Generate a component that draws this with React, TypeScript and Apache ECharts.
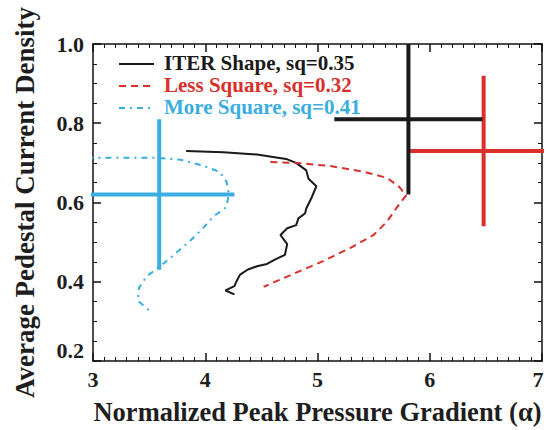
import React, { useEffect, useRef } from "react";
import * as echarts from "echarts";

// ITER shape curve (alpha, j)
const iterAlpha = [3.83, 4.16, 4.46, 4.72, 4.81, 4.9, 4.92, 4.99, 4.95, 4.9, 4.89, 4.83, 4.81, 4.73, 4.67, 4.73, 4.71, 4.62, 4.55, 4.46, 4.38, 4.31, 4.28, 4.26, 4.18, 4.26];
const iterJ = [0.73, 0.727, 0.721, 0.71, 0.7, 0.681, 0.66, 0.641, 0.614, 0.585, 0.573, 0.56, 0.543, 0.535, 0.518, 0.495, 0.468, 0.456, 0.445, 0.439, 0.431, 0.418, 0.402, 0.389, 0.378, 0.368];

// Less square curve
const lessAlpha = [4.58, 4.81, 5.11, 5.41, 5.62, 5.73, 5.79, 5.7, 5.62, 5.5, 5.29, 5.05, 4.81, 4.64, 4.52];
const lessJ = [0.702, 0.7, 0.692, 0.678, 0.662, 0.639, 0.618, 0.585, 0.552, 0.518, 0.485, 0.452, 0.423, 0.402, 0.387];

// More square curve
const moreAlpha = [2.95, 3.27, 3.57, 3.78, 3.98, 4.13, 4.19, 4.21, 4.19, 4.07, 3.98, 3.86, 3.72, 3.6, 3.48, 3.41, 3.4, 3.5];
const moreJ = [0.713, 0.713, 0.713, 0.708, 0.693, 0.677, 0.652, 0.623, 0.589, 0.564, 0.535, 0.502, 0.468, 0.439, 0.414, 0.385, 0.352, 0.328];

// Error crosses
const crossNames = ["ITER Shape, sq=0.35", "Less Square, sq=0.32", "More Square, sq=0.41"];
const crossAlpha = [5.81, 6.48, 3.59];
const crossAlphaErr = [0.66, 0.66, 0.67];
const crossJ = [0.81, 0.73, 0.62];
const crossJErr = [0.19, 0.19, 0.19];

const xTickLabels = ["3", "4", "5", "6", "7"];
const yTickLabels = ["0.2", "0.4", "0.6", "0.8", "1.0"];

const colors = ["#1a1a1a", "#d9302c", "#3aaee0"];
const dashes: any[] = [null, [7, 5], [6, 5, 2, 5]];
const FONT = "'Liberation Serif', 'Times New Roman', serif";

const zip = (a: number[], b: number[]) => a.map((v, i) => [v, b[i]]);

export default function App() {
  const ref = useRef<HTMLDivElement>(null);
  useEffect(() => {
    if (!ref.current) return;
    const chart = echarts.init(ref.current, undefined, { renderer: "svg", width: 548, height: 430 });

    const curveData = [zip(iterAlpha, iterJ), zip(lessAlpha, lessJ), zip(moreAlpha, moreJ)];

    const series: any[] = curveData.map((d, i) => ({
      name: crossNames[i],
      type: "line",
      data: d,
      symbol: "none",
      showSymbol: false,
      smooth: false,
      clip: true,
      lineStyle: { color: colors[i], width: 2, type: dashes[i] ?? "solid" },
      z: 2,
    }));

    const order = [2, 1, 0];
    order.forEach((i) => {
      series.push({
        type: "line",
        data: [
          [crossAlpha[i] - crossAlphaErr[i], crossJ[i]],
          [crossAlpha[i] + crossAlphaErr[i], crossJ[i]],
        ],
        symbol: "none",
        clip: true,
        lineStyle: { color: colors[i], width: 4, cap: "butt" },
        z: 3,
      });
      series.push({
        type: "line",
        data: [
          [crossAlpha[i], crossJ[i] - crossJErr[i]],
          [crossAlpha[i], crossJ[i] + crossJErr[i]],
        ],
        symbol: "none",
        clip: true,
        lineStyle: { color: colors[i], width: 4, cap: "butt" },
        z: 3,
      });
    });

    const legendGraphics: any[] = [];
    crossNames.forEach((n, i) => {
      const y = 63 + i * 22;
      legendGraphics.push({
        type: "line",
        shape: { x1: 119, y1: y + 1, x2: 154, y2: y + 1 },
        style: { stroke: colors[i], lineWidth: 2, lineDash: dashes[i] ?? undefined },
        z: 10,
      });
      legendGraphics.push({
        type: "text",
        x: 164,
        y: y,
        style: {
          text: n,
          fill: colors[i],
          font: `bold 21px ${FONT}`,
          verticalAlign: "middle",
          align: "left",
        },
        z: 10,
      });
    });

    const axisCommon = {
      axisLine: { show: true, onZero: false, lineStyle: { color: "#111", width: 1.5 } },
      axisTick: { show: true, inside: true, length: 8, lineStyle: { color: "#111", width: 1.5 } },
      minorTick: { show: true, length: 4, lineStyle: { color: "#111", width: 1 } },
      splitLine: { show: false },
    };
    const labelStyle = { fontFamily: FONT, fontWeight: "bold", fontSize: 22, color: "#1e1e1e" };
    const titleStyle = { fontFamily: FONT, fontWeight: "bold", fontSize: 26.5, color: "#1e1e1e" };

    chart.setOption({
      animation: false,
      backgroundColor: "#fff",
      grid: { left: 93, right: 6, top: 44, bottom: 66 },
      graphic: legendGraphics,
      xAxis: [
        {
          type: "value",
          min: 3,
          max: 7,
          interval: 1,
          position: "bottom",
          ...axisCommon,
          minorTick: { ...axisCommon.minorTick, splitNumber: 10 },
          axisLabel: {
            margin: 7,
            ...labelStyle,
            formatter: (v: number) => {
              const idx = Math.round(v - 3);
              const t = xTickLabels[idx] ?? "";
              return idx === xTickLabels.length - 1 ? `{last|${t}}` : t;
            },
            rich: { last: { ...labelStyle, padding: [0, 8, 0, 0] } },
          },
          name: "Normalized Peak Pressure Gradient (\u03b1)",
          nameLocation: "middle",
          nameGap: 37,
          nameTextStyle: titleStyle,
        },
        {
          type: "value",
          min: 3,
          max: 7,
          interval: 1,
          position: "top",
          ...axisCommon,
          minorTick: { ...axisCommon.minorTick, splitNumber: 10 },
          axisLabel: { show: false },
        },
      ],
      yAxis: [
        {
          type: "value",
          min: 0.2,
          max: 1.0,
          interval: 0.2,
          position: "left",
          ...axisCommon,
          minorTick: { ...axisCommon.minorTick, splitNumber: 4 },
          axisLabel: {
            margin: 9,
            ...labelStyle,
            verticalAlignMinLabel: "bottom",
            formatter: (v: number) => yTickLabels[Math.round((v - 0.2) / 0.2)] ?? "",
          },
          name: "Average Pedestal Current Density",
          nameLocation: "middle",
          nameGap: 55,
          nameTextStyle: { ...titleStyle, fontSize: 27 },
        },
        {
          type: "value",
          min: 0.2,
          max: 1.0,
          interval: 0.2,
          position: "right",
          ...axisCommon,
          minorTick: { ...axisCommon.minorTick, splitNumber: 4 },
          axisLabel: { show: false },
        },
      ],
      series,
    });

    return () => chart.dispose();
  }, []);

  return (
    <div
      ref={ref}
      style={{ position: "fixed", left: 0, top: 0, width: 548, height: 430, overflow: "hidden", background: "#fff" }}
    />
  );
}
